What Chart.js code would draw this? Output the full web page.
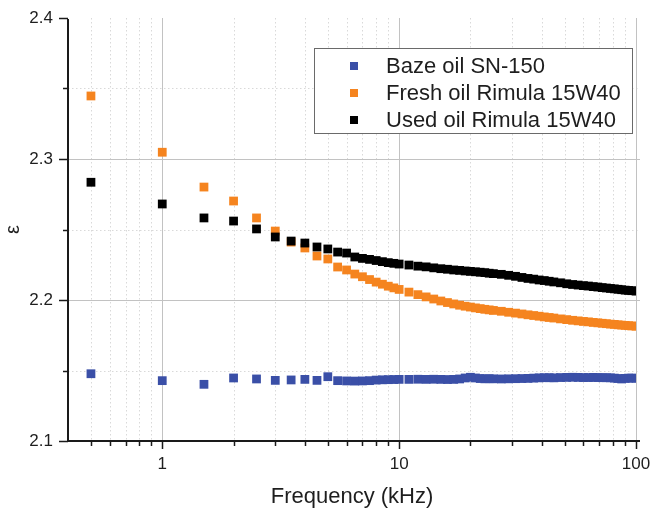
<!DOCTYPE html>
<html lang="en">
<head>
  <meta charset="UTF-8">
  <title>Permittivity vs frequency</title>
  <script src="https://cdn.jsdelivr.net/npm/chart.js"></script>
  <style>
    html, body { margin: 0; padding: 0; background: #fff; }
  </style>
</head>
<body>
  <canvas id="chart" width="653" height="512"></canvas>

  <script>
    // measured frequencies (kHz)
    const freq = [
      0.5, 1, 1.5, 2, 2.5, 3, 3.5, 4, 4.5, 5, 5.5, 6, 6.5, 7, 7.5, 8, 8.5, 9, 9.5, 10,
      11, 12, 13, 14, 15, 16, 17, 18, 19, 20, 21, 22, 23, 24, 25,
      27, 29, 31, 33, 35, 37, 39, 41, 43, 45,
      48, 51, 54, 57, 60, 63, 66, 69, 72, 75, 78, 81, 84, 87, 90, 93, 96, 100
    ];

    const baseOil = [
      2.1477, 2.1428, 2.1402, 2.1447, 2.1440, 2.1430, 2.1433, 2.1437, 2.1430, 2.1456,
      2.1428, 2.1426, 2.1425, 2.1426, 2.1428, 2.1432, 2.1434, 2.1435, 2.1436, 2.1437,
      2.1437, 2.1438, 2.1437, 2.1438, 2.1437, 2.1436, 2.1437, 2.1440, 2.1447, 2.1452,
      2.1447, 2.1443, 2.1441, 2.1442, 2.1441,
      2.1440, 2.1441, 2.1442, 2.1443, 2.1444, 2.1446, 2.1448, 2.1449, 2.1449, 2.1448,
      2.1450, 2.1451, 2.1452, 2.1451, 2.1450, 2.1450, 2.1451, 2.1450, 2.1449, 2.1449,
      2.1448, 2.1446, 2.1443, 2.1440, 2.1444, 2.1446, 2.1446, 2.1445
    ];

    const freshOil = [
      2.3447, 2.3048, 2.2801, 2.2702, 2.2582, 2.2489, 2.2411, 2.2369, 2.2312, 2.2291,
      2.2234, 2.2213, 2.2184, 2.2165, 2.2145, 2.2127, 2.2112, 2.2098, 2.2086, 2.2075,
      2.2056, 2.2038, 2.2022, 2.2007, 2.1993, 2.1982, 2.1972, 2.1963, 2.1956, 2.1950,
      2.1944, 2.1939, 2.1934, 2.1930, 2.1926,
      2.1920, 2.1913, 2.1907, 2.1901, 2.1895, 2.1890, 2.1885, 2.1880, 2.1876, 2.1872,
      2.1866, 2.1861, 2.1856, 2.1852, 2.1848, 2.1845, 2.1841, 2.1838, 2.1835, 2.1832,
      2.1829, 2.1827, 2.1824, 2.1822, 2.1820, 2.1818, 2.1816, 2.1814
    ];

    const usedOil = [
      2.2835, 2.2681, 2.2582, 2.2560, 2.2504, 2.2447, 2.2418, 2.2404, 2.2376, 2.2362,
      2.2340, 2.2333, 2.2305, 2.2295, 2.2288, 2.2280, 2.2272, 2.2265, 2.2260, 2.2255,
      2.2248, 2.2240, 2.2235, 2.2228, 2.2222, 2.2218, 2.2213, 2.2210, 2.2206, 2.2203,
      2.2200, 2.2197, 2.2194, 2.2190, 2.2187,
      2.2182, 2.2175, 2.2168, 2.2160, 2.2153, 2.2148, 2.2142, 2.2138, 2.2133, 2.2128,
      2.2122, 2.2115, 2.2110, 2.2106, 2.2102, 2.2099, 2.2095, 2.2092, 2.2088, 2.2085,
      2.2082, 2.2079, 2.2076, 2.2073, 2.2070, 2.2068, 2.2066, 2.2063
    ];

    const seriesNames = ['Baze oil SN-150', 'Fresh oil Rimula 15W40', 'Used oil Rimula 15W40'];
    const seriesColors = ['#3a4fa7', '#f5841f', '#000000'];

    const xMajorTicks = [1, 10, 100];
    const xMinorTicks = [0.5, 0.6, 0.7, 0.8, 0.9, 2, 3, 4, 5, 6, 7, 8, 9, 20, 30, 40, 50, 60, 70, 80, 90];
    const yMajorTicks = [2.1, 2.2, 2.3, 2.4];
    const yMinorTicks = [2.15, 2.25, 2.35];

    const FONT = "'Liberation Sans', Arial, sans-serif";
    Chart.defaults.font.family = FONT;
    Chart.defaults.color = '#1e1e1e';

    function pairs(ys) {
      return freq.map((f, i) => ({ x: f, y: ys[i] }));
    }

    function line(ctx, x1, y1, x2, y2) {
      ctx.beginPath();
      ctx.moveTo(x1, y1);
      ctx.lineTo(x2, y2);
      ctx.stroke();
    }

    // grid, axes, ticks and the boxed legend
    const frame = {
      id: 'frame',
      beforeDatasetsDraw(chart) {
        const { ctx, chartArea: a, scales: { x, y } } = chart;
        ctx.save();
        ctx.lineWidth = 1;

        ctx.strokeStyle = '#d9d9d9';
        ctx.setLineDash([1.5, 2.5]);
        xMinorTicks.forEach(v => {
          const px = Math.round(x.getPixelForValue(v)) + 0.5;
          line(ctx, px, a.top, px, a.bottom);
        });
        yMinorTicks.forEach(v => {
          const py = Math.round(y.getPixelForValue(v)) + 0.5;
          line(ctx, a.left, py, a.right + 4, py);
        });

        ctx.setLineDash([]);
        ctx.strokeStyle = '#c2c2c2';
        xMajorTicks.forEach(v => {
          const px = Math.round(x.getPixelForValue(v)) + 0.5;
          line(ctx, px, a.top, px, a.bottom);
        });
        yMajorTicks.slice(1, -1).forEach(v => {
          const py = Math.round(y.getPixelForValue(v)) + 0.5;
          line(ctx, a.left, py, a.right + 4, py);
        });
        ctx.restore();
      },
      afterDraw(chart) {
        const { ctx, chartArea: a, scales: { x, y } } = chart;
        ctx.save();
        ctx.strokeStyle = '#1a1a1a';
        ctx.lineWidth = 1.5;

        // ticks
        yMajorTicks.forEach(v => {
          const py = Math.round(y.getPixelForValue(v)) + 0.5;
          line(ctx, a.left - 9, py, a.left, py);
        });
        yMinorTicks.forEach(v => {
          const py = Math.round(y.getPixelForValue(v)) + 0.5;
          line(ctx, a.left - 5, py, a.left, py);
        });
        xMajorTicks.forEach(v => {
          const px = Math.round(x.getPixelForValue(v)) + 0.5;
          line(ctx, px, a.bottom, px, a.bottom + 8);
        });
        xMinorTicks.forEach(v => {
          const px = Math.round(x.getPixelForValue(v)) + 0.5;
          line(ctx, px, a.bottom, px, a.bottom + 5);
        });

        // axis lines
        ctx.lineWidth = 2;
        line(ctx, a.left, a.top + 1, a.left, a.bottom + 1);
        line(ctx, a.left - 1, a.bottom, a.right + 4, a.bottom);

        // legend
        const lx = 314, ly = 48, lw = 318, lh = 85;
        ctx.fillStyle = '#fff';
        ctx.fillRect(lx, ly, lw, lh);
        ctx.lineWidth = 1;
        ctx.strokeStyle = '#6a6a6a';
        ctx.strokeRect(lx + 0.5, ly + 0.5, lw, lh);

        ctx.font = '22px ' + FONT;
        ctx.textBaseline = 'middle';
        ctx.textAlign = 'left';
        seriesNames.forEach((name, i) => {
          const ry = 66 + i * 27;
          ctx.fillStyle = seriesColors[i];
          ctx.fillRect(350, ry - 4, 8, 8);
          ctx.fillStyle = '#1e1e1e';
          ctx.fillText(name, 386, ry + 1);
        });
        ctx.restore();
      }
    };

    const ctx = document.getElementById('chart').getContext('2d');

    new Chart(ctx, {
      type: 'scatter',
      data: {
        datasets: [
          { label: seriesNames[0], data: pairs(baseOil), backgroundColor: seriesColors[0], order: 2 },
          { label: seriesNames[1], data: pairs(freshOil), backgroundColor: seriesColors[1], order: 1 },
          { label: seriesNames[2], data: pairs(usedOil), backgroundColor: seriesColors[2], order: 0 }
        ]
      },
      options: {
        responsive: false,
        animation: false,
        layout: { padding: { top: 18, right: 17, left: 0, bottom: 0 } },
        elements: {
          point: { pointStyle: 'rect', radius: 6.2, hoverRadius: 6.2, borderWidth: 0 }
        },
        plugins: {
          legend: { display: false },
          tooltip: { enabled: false }
        },
        scales: {
          x: {
            type: 'logarithmic',
            min: 0.4,
            max: 100,
            grid: { display: false, drawTicks: false },
            border: { display: false },
            afterBuildTicks: s => {
              s.ticks = xMajorTicks.map(v => ({ value: v, major: true }));
            },
            afterFit: s => {
              s.height = 71;
              s.paddingLeft = 0;
              s.paddingRight = 0;
            },
            ticks: {
              autoSkip: false,
              maxRotation: 0,
              padding: 13,
              font: { size: 17 },
              callback: v => String(v)
            },
            title: {
              display: true,
              text: 'Frequency (kHz)',
              font: { size: 22 },
              padding: { top: 0, bottom: 2 }
            }
          },
          y: {
            min: 2.1,
            max: 2.4,
            grid: { display: false, drawTicks: false },
            border: { display: false },
            afterBuildTicks: s => {
              s.ticks = yMajorTicks.map(v => ({ value: v }));
            },
            afterFit: s => {
              s.width = 68;
              s.paddingTop = 0;
              s.paddingBottom = 0;
            },
            ticks: {
              padding: 15,
              font: { size: 17 },
              callback: v => v.toFixed(1)
            },
            title: {
              display: true,
              text: 'ε',
              font: { size: 20 },
              padding: { top: 1, bottom: 0 }
            }
          }
        }
      },
      plugins: [frame]
    });
  </script>
</body>
</html>
